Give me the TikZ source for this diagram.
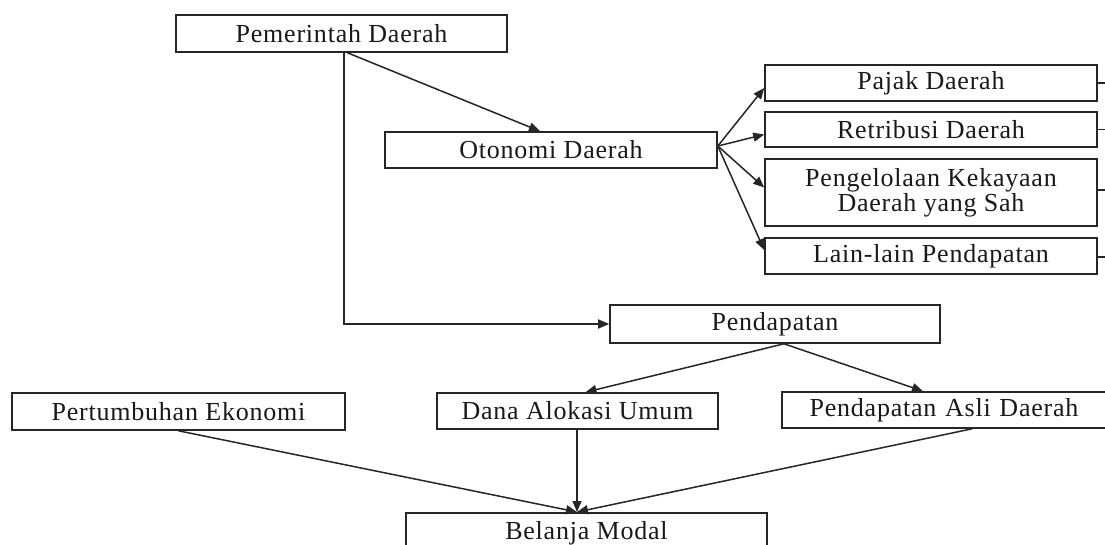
\documentclass[tikz,border=0pt]{standalone}
\usepackage{fontspec}
\setmainfont[LetterSpace=3]{Liberation Serif}
\usetikzlibrary{arrows.meta,calc}
\begin{document}
\begin{tikzpicture}[x=1pt,y=-1pt,
  box/.style={draw=black!85,line width=1.6pt,fill=white,inner sep=0pt,
    text=black!90,font=\fontsize{26}{25}\selectfont,align=center},
  conn/.style={draw=black!85,line width=1.5pt},
  arr/.style={conn,-{Triangle[length=11pt,width=9pt]}}]
\useasboundingbox (0,0) rectangle (1105,544);
\clip (0,0) rectangle (1105,544);
\fill[white] (0,0) rectangle (1105,544);
% nodes
\node[box,minimum width=331pt,minimum height=37pt] (pem) at (341.5,33.5) {Pemerintah Daerah};
\node[box,minimum width=332pt,minimum height=36pt] (oto) at (551,150) {Otonomi Daerah};
\node[box,minimum width=332pt,minimum height=36pt] (pajak) at (931,83) {Pajak Daerah};
\node[box,minimum width=332pt,minimum height=35pt] (retri) at (931,129.5) {Retribusi Daerah};
\node[box,minimum width=332pt,minimum height=67pt] (peng) at (931,192.5) {Pengelolaan Kekayaan\\Daerah yang Sah};
\node[box,minimum width=332pt,minimum height=36pt] (lain) at (931,256) {Lain-lain Pendapatan};
\node[box,minimum width=330pt,minimum height=38pt] (pend) at (775,324) {Pendapatan};
\node[box,minimum width=333pt,minimum height=37pt] (pert) at (178.5,411.5) {Pertumbuhan Ekonomi};
\node[box,minimum width=281pt,minimum height=36pt] (dana) at (577.5,411) {Dana Alokasi Umum};
\node[box,minimum width=324pt,minimum height=36pt,text width=318pt] (asli) at (944,410) {Pendapatan Asli Daerah};
\node[box,minimum width=361pt,minimum height=44pt,anchor=north] (bel) at (586.5,512) {\raisebox{8pt}{Belanja Modal}};
% right stubs
\coordinate (s1) at (1110,83);
\coordinate (s2) at (1110,129.5);
\coordinate (s3) at (1110,190);
\coordinate (s4) at (1110,257);
\draw[conn] (pajak.east) -- (pajak.east -| s1);
\draw[conn] (retri.east) -- (retri.east -| s2);
\draw[conn] ([yshift=2.5pt]peng.east) -- ([yshift=2.5pt]peng.east -| s3);
\draw[conn] ([yshift=-1pt]lain.east) -- ([yshift=-1pt]lain.east -| s4);
% connectors
\draw[arr] ([xshift=6pt]pem.south) -- ([xshift=-11pt]oto.north);
\draw[arr] ([xshift=2.5pt]pem.south) |- (pend.west);
\coordinate (os) at ([yshift=4pt]oto.east);
\draw[arr] (os) -- ([yshift=-5pt]pajak.west);
\draw[arr] (os) -- ([yshift=-5pt]retri.west);
\draw[arr] (os) -- ([yshift=5pt]peng.west);
\draw[arr] (os) -- ([yshift=6pt]lain.west);
\draw[arr] ([xshift=9pt]pend.south) -- ([xshift=8pt]dana.north);
\draw[arr] ([xshift=9pt]pend.south) -- ([xshift=-21pt]asli.north);
\coordinate (bt) at ([xshift=-9.5pt]bel.north);
\draw[arr] (pert.south) -- (bt);
\draw[arr] ([xshift=-0.5pt]dana.south) -- (bt);
\draw[arr] ([xshift=28pt]asli.south) -- (bt);
\end{tikzpicture}
\end{document}
